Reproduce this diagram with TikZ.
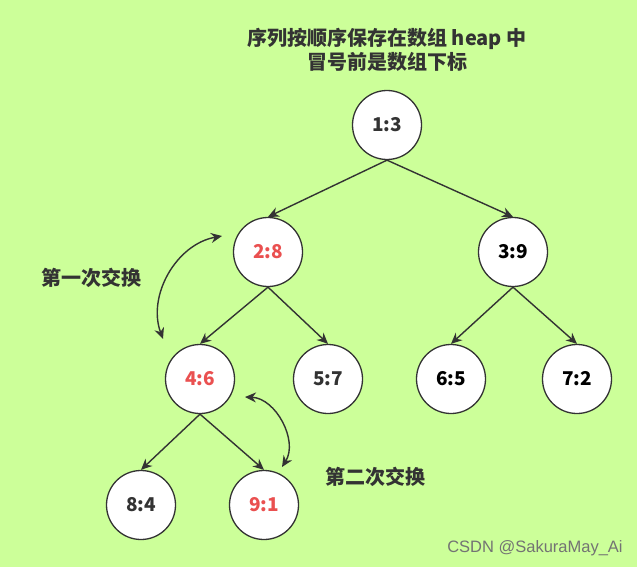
\documentclass[tikz,border=0pt]{standalone}
\usepackage{fontspec}
\usepackage{xcolor}
\usepackage{tikz}
\usetikzlibrary{arrows.meta}
\setmainfont{Noto Sans CJK SC}
\newfontfamily\wmfont{Liberation Sans}
\definecolor{heapbg}{RGB}{204,255,153}
\definecolor{heapline}{RGB}{51,51,51}
\definecolor{swapred}{RGB}{234,80,80}

\begin{document}
\begin{tikzpicture}[x=1pt, y=-1pt,
  every node/.style={font=\bfseries\fontsize{20}{24}\selectfont, text=heapline},
  cell/.style={circle, draw=heapline, line width=1.3pt, fill=white,
               minimum size=69pt, inner sep=0pt, font=\bfseries\fontsize{19}{22}\selectfont},
  moved/.style={cell, text=swapred},
  edge/.style={-{Stealth[length=11pt, width=10pt]}, line width=1.4pt, draw=heapline},
  swapline/.style={{Stealth[length=11pt, width=10pt]}-{Stealth[length=11pt, width=10pt]},
                   line width=1.4pt, draw=heapline}
]
% background and frame
\fill[heapbg] (0,0) rectangle (637,567);
\useasboundingbox (0,0) rectangle (637,567);
% title
\node[align=center] (title) at (387,50) {序列按顺序保存在数组 heap 中\\冒号前是数组下标};
% heap nodes, level by level
\node[cell]  (n1) at (387,125) {1:3};
\node[moved] (n2) at (268,252) {2:8};
\node[cell, text=black] (n3) at (513,252) {3:9};
\node[moved] (n4) at (200,379) {4:6};
\node[cell]  (n5) at (328,379) {5:7};
\node[cell, text=black] (n6) at (451,379) {6:5};
\node[cell, text=black] (n7) at (577,379) {7:2};
\node[cell]  (n8) at (141,505) {8:4};
\node[moved] (n9) at (264,505) {9:1};
% tree edges
\draw[edge] (n1.south) -- (n2.north);
\draw[edge] (n1.south) -- (n3.north);
\draw[edge] (n2.south) -- (n4.north);
\draw[edge] (n2.south) -- (n5.north);
\draw[edge] (n3.south) -- (n6.north);
\draw[edge] (n3.south) -- (n7.north);
\draw[edge] (n4.south) -- (n8.north);
\draw[edge] (n4.south) -- (n9.north);
% first swap
\coordinate (s1a) at (222,236);
\coordinate (s1b) at (163,339);
\draw[swapline] (s1a) to[bend right=50] (s1b);
\node (lab1) at (91,278) {第一次交换};
% second swap
\coordinate (s2a) at (245,397);
\coordinate (s2b) at (282,467);
\draw[swapline] (s2a) to[bend left=60] (s2b);
\node (lab2) at (375,477) {第二次交换};
% watermark
\node[font=\wmfont\fontsize{16.5}{19}\selectfont, text=black!55] (wm) at (535,548) {CSDN @SakuraMay\_Ai};
\end{tikzpicture}
\end{document}
